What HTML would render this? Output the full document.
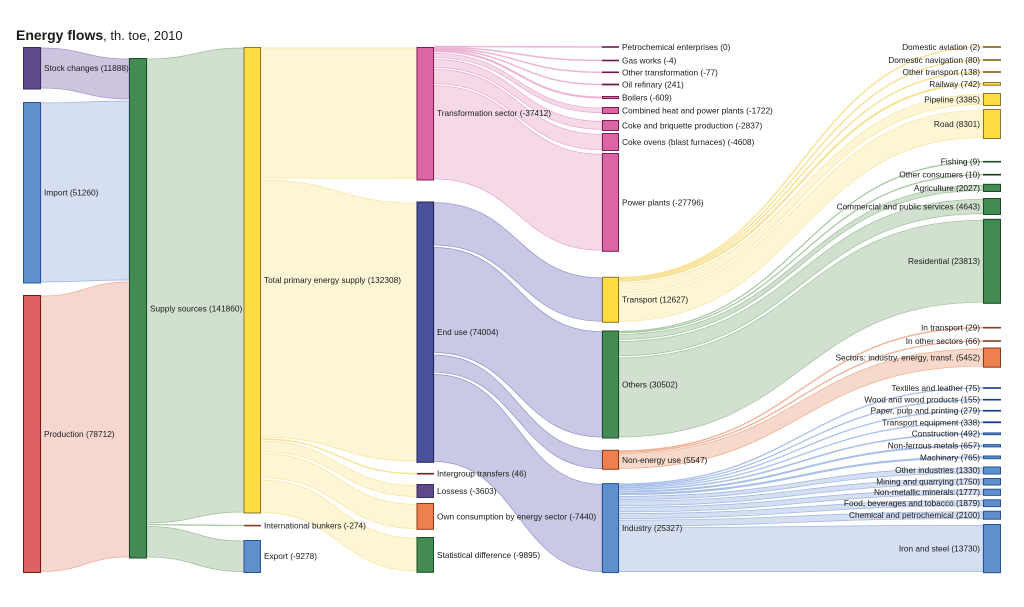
<!DOCTYPE html>
<html><head><meta charset="utf-8"><style>
html,body{margin:0;padding:0;background:#fff;}
svg{display:block;}
text{font-family:"Liberation Sans",Arial,sans-serif;font-size:8.3px;fill:#1a1a1a;}
.t{font-size:14px;font-weight:bold;}
.lp{fill:#cdc5df;stroke:#a597c8;stroke-width:0.7;}
.lb{fill:#d6dff2;stroke:#9ab4e2;stroke-width:0.7;}
.lr{fill:#f5d7d0;stroke:#eeaaa0;stroke-width:0.7;}
.lg{fill:#d1e0cf;stroke:#9fc29c;stroke-width:0.7;}
.ly{fill:#fdf6d4;stroke:#f9e59e;stroke-width:0.7;}
.lk{fill:#f5d9e9;stroke:#eaa8cd;stroke-width:0.7;}
.li{fill:#c9c9e5;stroke:#9393cb;stroke-width:0.7;}
.lo{fill:#f7d9cb;stroke:#efab8c;stroke-width:0.7;}
.tg{fill:none;stroke:#a9c9a6;stroke-width:1.3;}
.ty{fill:none;stroke:#f8e39a;stroke-width:1.5;}
.tk{fill:none;stroke:#eeb2d3;stroke-width:1.4;}
.tb{fill:none;stroke:#a9c0ea;stroke-width:1.3;}
.to{fill:none;stroke:#f0b094;stroke-width:1.3;}
.ti{fill:none;stroke:#a0a0d2;stroke-width:1.3;}
.np{fill:#5e4a8a;stroke:#3a2c5c;}
.nb{fill:#6090cc;stroke:#28539a;}
.nr{fill:#de6262;stroke:#761a1a;}
.ng{fill:#428b52;stroke:#1d4a28;}
.ny{fill:#fddc44;stroke:#8c7630;}
.nk{fill:#da66a6;stroke:#7a1f50;}
.ni{fill:#4a519c;stroke:#1e2456;}
.no{fill:#ee8050;stroke:#8a3a1a;}
rect{stroke-width:1;}
</style></head><body>
<svg width="1024" height="607" viewBox="0 0 1024 607" xmlns="http://www.w3.org/2000/svg">
<rect x="0" y="0" width="1024" height="607" fill="#fff" stroke="none"/>
<text x="16" y="40"><tspan class="t">Energy flows</tspan><tspan style="font-size:13px">, th. toe, 2010</tspan></text>

<!-- links col0->col1 -->
<path class="lp" d="M41,48 C85,48 85,59 129,59 L129,99 C85,99 85,88 41,88 Z"/>
<path class="lb" d="M41,103 C85,103 85,101 129,101 L129,280 C85,280 85,282 41,282 Z"/>
<path class="lr" d="M41,296 C85,296 85,282 129,282 L129,557 C85,557 85,571.5 41,571.5 Z"/>
<!-- col1->col2 -->
<path class="lg" d="M147,59 C195.5,59 195.5,48 244,48 L244,512 C195.5,512 195.5,523 147,523 Z"/>
<path class="tg" d="M147,524.6 C195.5,524.6 195.5,525.5 244,525.5"/>
<path class="lg" d="M147,526.5 C195.5,526.5 195.5,541 244,541 L244,571.5 C195.5,571.5 195.5,557 147,557 Z"/>
<!-- col2->col3 -->
<path class="ly" d="M261,48 C339,48 339,48 417,48 L417,178.5 C339,178.5 339,178 261,178 Z"/>
<path class="ly" d="M261,180 C339,180 339,203 417,203 L417,461 C339,461 339,437 261,437 Z"/>
<path class="ty" d="M261,439 C339,439 339,473.7 417,473.7"/>
<path class="ly" d="M261,441 C339,441 339,485.5 417,485.5 L417,496.5 C339,496.5 339,451.5 261,451.5 Z"/>
<path class="ly" d="M261,453.5 C339,453.5 339,504.3 417,504.3 L417,528.5 C339,528.5 339,477.5 261,477.5 Z"/>
<path class="ly" d="M261,480 C339,480 339,538.3 417,538.3 L417,571 C339,571 339,512.5 261,512.5 Z"/>
<!-- col3->col4 transformation -->
<path class="tk" d="M434,46.5 C518,46.5 518,47 602,47"/>
<path class="tk" d="M434,47.5 C518,47.5 518,60.5 602,60.5"/>
<path class="tk" d="M434,48.5 C518,48.5 518,72.3 602,72.3"/>
<path class="tk" d="M434,49.5 C518,49.5 518,84.5 602,84.5"/>
<path class="tk" style="stroke-width:2" d="M434,51 C518,51 518,97.5 602,97.5"/>
<path class="lk" d="M434,53.3 C518,53.3 518,108 602,108 L602,112.6 C518,112.6 518,57.7 434,57.7 Z"/>
<path class="lk" d="M434,59.5 C518,59.5 518,121.3 602,121.3 L602,129.3 C518,129.3 518,67.5 434,67.5 Z"/>
<path class="lk" d="M434,69.5 C518,69.5 518,134.3 602,134.3 L602,149.7 C518,149.7 518,83.7 434,83.7 Z"/>
<path class="lk" d="M434,85.7 C518,85.7 518,154.3 602,154.3 L602,250.3 C518,250.3 518,179 434,179 Z"/>
<!-- end use -->
<path class="li" d="M434,202.7 C518,202.7 518,278 602,278 L602,321.3 C518,321.3 518,245 434,245 Z"/>
<path class="li" d="M434,247.5 C518,247.5 518,331.7 602,331.7 L602,437 C518,437 518,352.5 434,352.5 Z"/>
<path class="li" d="M434,355 C518,355 518,451 602,451 L602,468.5 C518,468.5 518,372.3 434,372.3 Z"/>
<path class="li" d="M434,374.5 C518,374.5 518,484.3 602,484.3 L602,571.6 C518,571.6 518,461.5 434,461.5 Z"/>
<!-- col4->col5 transport -->
<path class="ty" d="M619,277.5 C801,277.5 801,47 983,47"/>
<path class="ty" d="M619,278.3 C801,278.3 801,60 983,60"/>
<path class="ty" d="M619,279.1 C801,279.1 801,72 983,72"/>
<path class="ty" style="stroke-width:2.2" d="M619,280.6 C801,280.6 801,83.8 983,83.8"/>
<path class="ly" d="M619,283 C801,283 801,94.5 983,94.5 L983,104.5 C801,104.5 801,293 619,293 Z"/>
<path class="ly" d="M619,295 C801,295 801,110.3 983,110.3 L983,137.5 C801,137.5 801,321.3 619,321.3 Z"/>
<!-- others -->
<path class="tg" d="M619,331.5 C801,331.5 801,161.7 983,161.7"/>
<path class="tg" d="M619,332.6 C801,332.6 801,174.7 983,174.7"/>
<path class="lg" d="M619,334.3 C801,334.3 801,185.3 983,185.3 L983,190.5 C801,190.5 801,339.4 619,339.4 Z"/>
<path class="lg" d="M619,341.4 C801,341.4 801,199.3 983,199.3 L983,213.6 C801,213.6 801,355.8 619,355.8 Z"/>
<path class="lg" d="M619,357.8 C801,357.8 801,220.2 983,220.2 L983,302.2 C801,302.2 801,437 619,437 Z"/>
<!-- non-energy -->
<path class="to" d="M619,451 C801,451 801,327.7 983,327.7"/>
<path class="to" d="M619,452.1 C801,452.1 801,341 983,341"/>
<path class="lo" d="M619,453.5 C801,453.5 801,349 983,349 L983,366.2 C801,366.2 801,468.5 619,468.5 Z"/>
<!-- industry -->
<path class="tb" d="M619,484.1 C801,484.1 801,388 983,388"/>
<path class="tb" d="M619,485.2 C801,485.2 801,399.7 983,399.7"/>
<path class="tb" d="M619,486.4 C801,486.4 801,410.7 983,410.7"/>
<path class="tb" d="M619,487.7 C801,487.7 801,422.3 983,422.3"/>
<path class="tb" style="stroke-width:1.6" d="M619,489.3 C801,489.3 801,433.7 983,433.7"/>
<path class="tb" style="stroke-width:2" d="M619,491.5 C801,491.5 801,445.7 983,445.7"/>
<path class="tb" style="stroke-width:2.2" d="M619,494 C801,494 801,457.3 983,457.3"/>
<path class="lb" d="M619,496.3 C801,496.3 801,467.8 983,467.8 L983,473.2 C801,473.2 801,499.5 619,499.5 Z"/>
<path class="lb" d="M619,501 C801,501 801,479.1 983,479.1 L983,484.2 C801,484.2 801,505.6 619,505.6 Z"/>
<path class="lb" d="M619,507.2 C801,507.2 801,489.8 983,489.8 L983,494.5 C801,494.5 801,511.9 619,511.9 Z"/>
<path class="lb" d="M619,513.5 C801,513.5 801,500.5 983,500.5 L983,505.9 C801,505.9 801,518.5 619,518.5 Z"/>
<path class="lb" d="M619,520.1 C801,520.1 801,511.8 983,511.8 L983,518.5 C801,518.5 801,525.9 619,525.9 Z"/>
<path class="lb" d="M619,527.7 C801,527.7 801,525.3 983,525.3 L983,571.7 C801,571.7 801,571.6 619,571.6 Z"/>

<!-- nodes col0 -->
<rect class="np" x="23.5" y="47.5" width="17" height="41.5"/>
<rect class="nb" x="23.5" y="102.5" width="17" height="180.5"/>
<rect class="nr" x="23.5" y="295.5" width="17" height="277"/>
<!-- col1 -->
<rect class="ng" x="129.5" y="58.5" width="17" height="499.5"/>
<!-- col2 -->
<rect class="ny" x="244" y="47.5" width="16.5" height="465.5"/>
<rect x="244" y="524.8" width="17" height="1.6" fill="#8a3a2a" stroke="none"/>
<rect class="nb" x="244" y="540.5" width="16.5" height="32"/>
<!-- col3 -->
<rect class="nk" x="417" y="47.5" width="16.5" height="132.5"/>
<rect class="ni" x="417" y="202" width="16.5" height="260.3"/>
<rect x="417" y="472.9" width="17" height="1.6" fill="#7a1a2a" stroke="none"/>
<rect class="np" x="417" y="484.5" width="16.5" height="13"/>
<rect class="no" x="417" y="503.5" width="16.5" height="25.8"/>
<rect class="ng" x="417" y="537.5" width="16.5" height="34.8"/>
<!-- col4 -->
<rect x="602" y="46.2" width="17" height="1.6" fill="#751650" stroke="none"/>
<rect x="602" y="59.7" width="17" height="1.6" fill="#751650" stroke="none"/>
<rect x="602" y="71.5" width="17" height="1.6" fill="#751650" stroke="none"/>
<rect x="602" y="83.6" width="17" height="1.8" fill="#751650" stroke="none"/>
<rect class="nk" x="602.5" y="96.5" width="16" height="2"/>
<rect class="nk" x="602.5" y="107.5" width="16" height="6"/>
<rect class="nk" x="602.5" y="120.5" width="16" height="10"/>
<rect class="nk" x="602.5" y="133.5" width="16" height="17"/>
<rect class="nk" x="602.5" y="153.5" width="16" height="97.8"/>
<rect class="ny" x="602.5" y="277.3" width="16" height="45"/>
<rect class="ng" x="602.5" y="331" width="16" height="107"/>
<rect class="no" x="602.5" y="450.3" width="16" height="19"/>
<rect class="nb" x="602.5" y="483.6" width="16" height="89"/>
<!-- col5 -->
<rect x="983" y="46.2" width="18" height="1.6" fill="#7a6414" stroke="none"/>
<rect x="983" y="59.2" width="18" height="1.6" fill="#7a6414" stroke="none"/>
<rect x="983" y="71.2" width="18" height="1.6" fill="#7a6414" stroke="none"/>
<rect class="ny" x="983.5" y="82.5" width="17" height="2.7"/>
<rect class="ny" x="983.5" y="93.5" width="17" height="12"/>
<rect class="ny" x="983.5" y="109.5" width="17" height="29"/>
<rect x="983" y="160.9" width="18" height="1.6" fill="#1d4a22" stroke="none"/>
<rect x="983" y="173.9" width="18" height="1.6" fill="#0f3a18" stroke="none"/>
<rect class="ng" x="983.5" y="184.3" width="17" height="7.2"/>
<rect class="ng" x="983.5" y="198.5" width="17" height="16"/>
<rect class="ng" x="983.5" y="219.3" width="17" height="84"/>
<rect x="983" y="326.9" width="18" height="1.6" fill="#8a3a22" stroke="none"/>
<rect x="983" y="340.2" width="18" height="1.6" fill="#8a3a22" stroke="none"/>
<rect class="no" x="983.5" y="348" width="17" height="19.2"/>
<rect x="983" y="387.2" width="18" height="1.6" fill="#143c8a" stroke="none"/>
<rect x="983" y="398.9" width="18" height="1.6" fill="#143c8a" stroke="none"/>
<rect x="983" y="409.9" width="18" height="1.7" fill="#143c8a" stroke="none"/>
<rect x="983" y="421.4" width="18" height="1.8" fill="#143c8a" stroke="none"/>
<rect class="nb" x="983.5" y="432.9" width="17" height="1.8"/>
<rect class="nb" x="983.5" y="444.6" width="17" height="2.3"/>
<rect class="nb" x="983.5" y="456" width="17" height="2.7"/>
<rect class="nb" x="983.5" y="467" width="17" height="7"/>
<rect class="nb" x="983.5" y="478.5" width="17" height="6.5"/>
<rect class="nb" x="983.5" y="489.2" width="17" height="6.2"/>
<rect class="nb" x="983.5" y="499.8" width="17" height="6.8"/>
<rect class="nb" x="983.5" y="511.2" width="17" height="8"/>
<rect class="nb" x="983.5" y="524.5" width="17" height="48.2"/>

<!-- labels -->
<text x="44" y="71">Stock changes (11888)</text>
<text x="44" y="195.5">Import (51260)</text>
<text x="44" y="437">Production (78712)</text>
<text x="150" y="311.5">Supply sources (141860)</text>
<text x="264" y="283">Total primary energy supply (132308)</text>
<text x="264" y="528.5">International bunkers (-274)</text>
<text x="264" y="559">Export (-9278)</text>
<text x="437" y="116">Transformation sector (-37412)</text>
<text x="437" y="335">End use (74004)</text>
<text x="437" y="476.7">Intergroup transfers (46)</text>
<text x="437" y="494">Lossess (-3603)</text>
<text x="437" y="519.5">Own consumption by energy sector (-7440)</text>
<text x="437" y="558">Statistical difference (-9895)</text>
<text x="622" y="50">Petrochemical enterprises (0)</text>
<text x="622" y="63.5">Gas works (-4)</text>
<text x="622" y="75.3">Other transformation (-77)</text>
<text x="622" y="87.5">Oil refinary (241)</text>
<text x="622" y="100.5">Boilers (-609)</text>
<text x="622" y="113.3">Combined heat and power plants (-1722)</text>
<text x="622" y="128.3">Coke and briquette production (-2837)</text>
<text x="622" y="145">Coke ovens (blast furnaces) (-4608)</text>
<text x="622" y="205.3">Power plants (-27796)</text>
<text x="622" y="302.7">Transport (12627)</text>
<text x="622" y="387.5">Others (30502)</text>
<text x="622" y="463">Non-energy use (5547)</text>
<text x="622" y="531">Industry (25327)</text>
<g text-anchor="end">
<text x="980" y="50">Domestic aviation (2)</text>
<text x="980" y="63">Domestic navigation (80)</text>
<text x="980" y="75">Other transport (138)</text>
<text x="980" y="87">Railway (742)</text>
<text x="980" y="102.5">Pipeline (3385)</text>
<text x="980" y="127">Road (8301)</text>
<text x="980" y="164.7">Fishing (9)</text>
<text x="980" y="177.7">Other consumers (10)</text>
<text x="980" y="191">Agriculture (2027)</text>
<text x="980" y="209.5">Commercial and public services (4643)</text>
<text x="980" y="264">Residential (23813)</text>
<text x="980" y="330.7">In transport (29)</text>
<text x="980" y="344">In other sectors (66)</text>
<text x="980" y="360.5">Sectors: industry, energy, transf. (5452)</text>
<text x="980" y="391">Textiles and leather (75)</text>
<text x="980" y="402.7">Wood and wood products (155)</text>
<text x="980" y="413.7">Paper, pulp and printing (279)</text>
<text x="980" y="425.3">Transport equipment (338)</text>
<text x="980" y="436.7">Construction (492)</text>
<text x="980" y="448.7">Non-ferrous metals (657)</text>
<text x="980" y="460.3">Machinary (765)</text>
<text x="980" y="473">Other industries (1330)</text>
<text x="980" y="484.7">Mining and quarrying (1750)</text>
<text x="980" y="495.2">Non-metallic minerals (1777)</text>
<text x="980" y="506.2">Food, beverages and tobacco (1879)</text>
<text x="980" y="518.2">Chemical and petrochemical (2100)</text>
<text x="980" y="551.5">Iron and steel (13730)</text>
</g>
</svg>
</body></html>
